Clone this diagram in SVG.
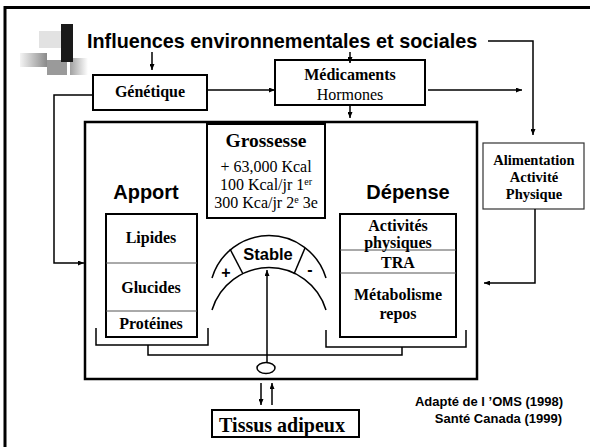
<svg xmlns="http://www.w3.org/2000/svg" width="590" height="447" viewBox="0 0 590 447">
<defs>
<marker id="ah" markerUnits="userSpaceOnUse" markerWidth="6" markerHeight="5" refX="6" refY="2.5" orient="auto">
<path d="M0,0 L6,2.5 L0,5 z" fill="#000"/>
</marker>
<linearGradient id="g1" x1="0" y1="0" x2="1" y2="0">
<stop offset="0" stop-color="#f4f4f4"/><stop offset="1" stop-color="#8a8a8a"/>
</linearGradient>
<linearGradient id="g2" x1="0" y1="0" x2="1" y2="0">
<stop offset="0" stop-color="#a0a0a0"/><stop offset="1" stop-color="#ffffff"/>
</linearGradient>
<style>
.box{fill:#fff;stroke:#000;stroke-width:2}
.thin{fill:#fff;stroke:#333;stroke-width:1.2}
.div{stroke:#555;stroke-width:1;fill:none}
.ln{fill:none;stroke:#000;stroke-width:1.5}
.arr{fill:none;stroke:#000;stroke-width:1.5;marker-end:url(#ah)}
.tb{font-family:"Liberation Serif","Times New Roman",serif;font-weight:bold;fill:#000;text-anchor:middle}
.tr{font-family:"Liberation Serif","Times New Roman",serif;fill:#000;text-anchor:middle}
.ab{font-family:"Liberation Sans",Arial,sans-serif;font-weight:bold;fill:#000;text-anchor:middle}
</style>
</defs>
<rect x="0" y="0" width="590" height="447" fill="#fff"/>
<rect x="5" y="7.5" width="600" height="460" fill="none" stroke="#000" stroke-width="3"/>
<g id="decor">
<rect x="39" y="31" width="22" height="17" fill="#e2e2e2"/>
<rect x="20" y="53" width="27" height="14" fill="url(#g1)"/>
<rect x="47" y="60" width="20" height="15" fill="#9a9a9a"/>
<rect x="70" y="58" width="18" height="17" fill="url(#g2)"/>
<rect x="61" y="24" width="12" height="38" fill="#1a1a1a"/>
</g>
<g id="title">
<text x="87" y="48" font-family="'Liberation Sans',Arial,sans-serif" font-weight="bold" font-size="19.8" fill="#000">Influences environnementales et sociales</text>
</g>
<g id="genetique">
<rect class="box" x="93" y="75" width="114" height="35"/>
<text class="tb" x="150" y="97" font-size="16">Génétique</text>
</g>
<g id="medicaments">
<rect class="box" x="275" y="60" width="150" height="45"/>
<text class="tb" x="350" y="80" font-size="16">Médicaments</text>
<text class="tr" x="350" y="100" font-size="16">Hormones</text>
</g>
<g id="alimentation">
<rect class="thin" x="483" y="143" width="101" height="66"/>
<text class="tb" x="534" y="165" font-size="14.5">Alimentation</text>
<text class="tb" x="534" y="182" font-size="14.5">Activité</text>
<text class="tb" x="534" y="199" font-size="14.5">Physique</text>
</g>
<g id="bilan">
<rect x="85" y="122" width="392" height="257" fill="none" stroke="#000" stroke-width="2.5"/>
</g>
<g id="grossesse">
<rect class="box" x="207" y="124" width="118" height="94"/>
<text class="tb" x="266" y="147" font-size="19.5">Grossesse</text>
<text class="tr" x="266" y="172" font-size="16">+ 63,000 Kcal</text>
<text class="tr" x="266" y="190" font-size="16">100 Kcal/jr 1<tspan font-size="10" baseline-shift="super">er</tspan></text>
<text class="tr" x="266" y="208" font-size="16">300 Kca/jr 2<tspan font-size="10" baseline-shift="super">e</tspan> 3e</text>
</g>
<g id="apport">
<text class="ab" x="146" y="199" font-size="20">Apport</text>
<rect class="box" x="106" y="214" width="91" height="123"/>
<line class="div" x1="106" y1="263" x2="197" y2="263"/>
<line class="div" x1="106" y1="311" x2="197" y2="311"/>
<text class="tb" x="151" y="243" font-size="16">Lipides</text>
<text class="tb" x="151" y="293" font-size="16">Glucides</text>
<text class="tb" x="151" y="329" font-size="16">Protéines</text>
</g>
<g id="depense">
<text class="ab" x="408" y="199" font-size="20">Dépense</text>
<rect class="box" x="340" y="214" width="116" height="123"/>
<line class="div" x1="340" y1="250" x2="456" y2="250"/>
<line class="div" x1="340" y1="273" x2="456" y2="273"/>
<text class="tb" x="398" y="231" font-size="16">Activités</text>
<text class="tb" x="398" y="248" font-size="16">physiques</text>
<text class="tb" x="398" y="268" font-size="16">TRA</text>
<text class="tb" x="398" y="300" font-size="16">Métabolisme</text>
<text class="tb" x="398" y="319" font-size="16">repos</text>
</g>
<g id="balance">
<path class="ln" d="M212,278 A59.5,59.5 0 0 1 326,278"/>
<path class="ln" d="M212,310 A59.5,59.5 0 0 1 326,310"/>
<line class="ln" x1="230" y1="249" x2="243" y2="274" stroke-width="1"/>
<line class="ln" x1="305" y1="248" x2="294" y2="274" stroke-width="1"/>
<text class="ab" x="268" y="260" font-size="16.5">Stable</text>
<text class="ab" x="226" y="278" font-size="16">+</text>
<text class="ab" x="310" y="275" font-size="16">-</text>
</g>
<g id="tissus">
<rect class="box" x="212" y="410" width="147" height="27" stroke-width="1.5"/>
<text class="tb" x="282" y="432" font-size="20">Tissus adipeux</text>
</g>
<g id="source">
<text x="563" y="406" font-family="'Liberation Sans',Arial,sans-serif" font-weight="bold" font-size="13" text-anchor="end" fill="#000">Adapté de l ’OMS (1998)</text>
<text x="562" y="423" font-family="'Liberation Sans',Arial,sans-serif" font-weight="bold" font-size="13" text-anchor="end" fill="#000">Santé Canada (1999)</text>
</g>
<g id="connectors">
<path class="arr" d="M152,52 V70"/>
<path class="arr" d="M350,52 V63"/>
<path class="arr" d="M488,41 H533 V135"/>
<path class="arr" d="M207,90 H275"/>
<path class="arr" d="M428,90 H522"/>
<path class="arr" d="M350,105 V118"/>
<path class="arr" d="M93,95 H54 V263 H84"/>
<path class="arr" d="M535,209 V283 H484"/>
<path class="ln" d="M96,328 V345 H208 V328"/>
<path class="ln" d="M326,330 V347 H466 V330"/>
<path class="ln" d="M148,345 V355 H402 V347"/>
<path class="arr" d="M267,362.5 V270"/>
<ellipse cx="266" cy="368" rx="9" ry="5.5" fill="#fff" stroke="#000" stroke-width="1.5"/>
<path class="arr" d="M261,383 V405"/>
<path class="arr" d="M272,405 V383"/>
</g>
</svg>
